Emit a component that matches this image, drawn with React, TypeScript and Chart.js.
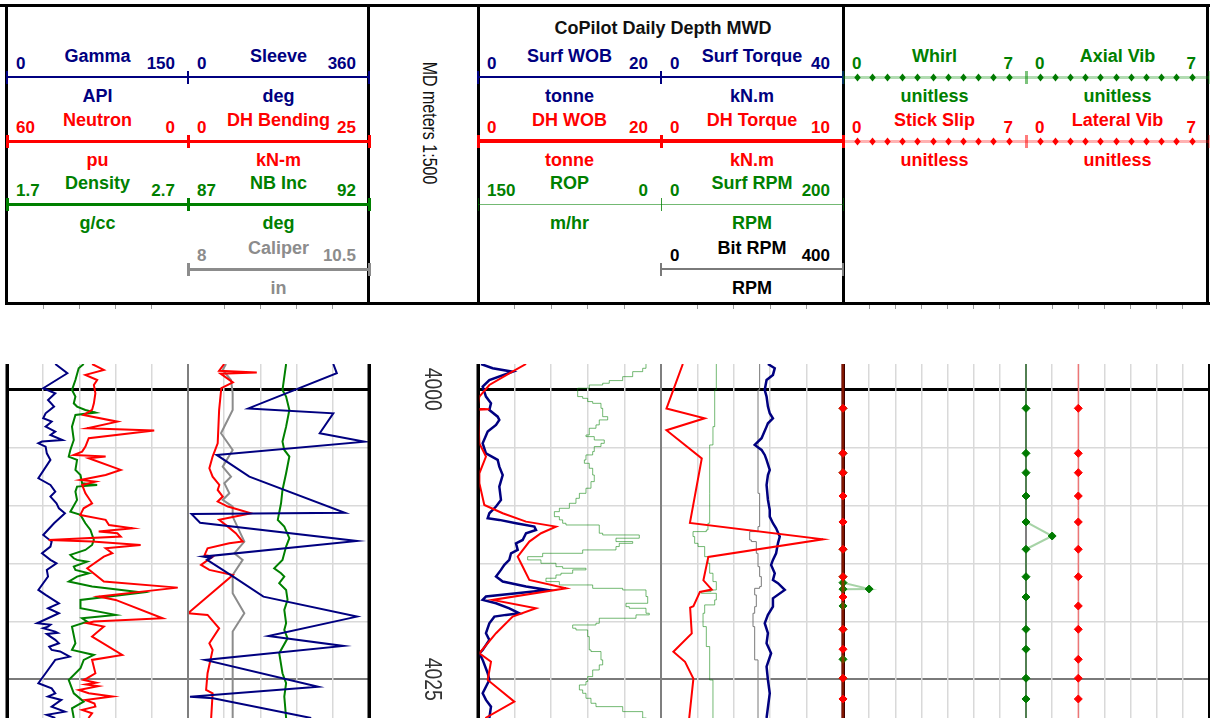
import React, { useEffect, useRef } from "react";
import { Chart, registerables } from "chart.js";

Chart.register(...registerables);

const FONT = 'Arial, "Liberation Sans", Helvetica, sans-serif';

// ---------------- depth axis ----------------
const DEPTH_TOP = 3997.82;
const DEPTH_BOTTOM = 4028.34;
const DEPTH_GRID = [4000, 4005, 4010, 4015, 4020, 4025];
const DEPTH_LABELS = [4000, 4025];

// ---------------- curves: [depth m, value] ----------------
const gamma = [
  [3997.82, 40], [3998.62, 50], [3999.91, 30], [4000.34, 40], [4000.92, 34], [4001.49, 39], [4002.07, 32],
  [4002.5, 30], [4002.79, 37], [4003.22, 32], [4003.65, 40], [4003.94, 36], [4004.37, 46], [4004.51, 29],
  [4004.66, 26], [4004.94, 32], [4005.52, 33], [4006.09, 36], [4007.67, 26], [4008.25, 36], [4008.82, 40],
  [4009.25, 36], [4009.83, 41], [4010.26, 43], [4010.69, 48], [4011.55, 39], [4012.56, 30], [4013.13, 37],
  [4013.56, 36], [4014.14, 29], [4014.71, 36], [4015.0, 41], [4015.57, 33], [4016.15, 34], [4017.3, 26],
  [4017.73, 32], [4018.45, 43], [4018.88, 34], [4019.31, 43], [4020.17, 25], [4020.3, 36], [4020.46, 34],
  [4020.6, 30], [4020.89, 40], [4021.0, 42], [4021.1, 33], [4021.32, 36], [4021.6, 40], [4021.9, 43],
  [4022.2, 35], [4022.47, 37], [4022.6, 44], [4022.76, 47], [4023.05, 52], [4023.33, 40], [4024.48, 32],
  [4025.34, 26], [4025.78, 37], [4026.21, 40], [4026.49, 34], [4026.78, 45], [4027.36, 37], [4027.79, 48],
  [4028.07, 33], [4028.34, 40],
];
const neutron = [
  [3997.82, 31.8], [3998.33, 27.9], [3998.76, 34], [3999.2, 30.1], [3999.63, 31.2], [4000.34, 30.7],
  [4001.21, 31.2], [4001.78, 31.8], [4002.21, 34.6], [4002.79, 23.4], [4003.36, 33.4], [4003.56, 11.2],
  [4004.22, 32.9], [4004.94, 34], [4005.37, 35.1], [4005.66, 37.9], [4005.8, 27.3], [4005.95, 32.9],
  [4006.95, 22.3], [4007.39, 27.3], [4007.82, 35.7], [4007.96, 30.7], [4008.25, 35.1], [4008.97, 34],
  [4009.83, 31.8], [4010.26, 34.6], [4010.83, 35.7], [4011.26, 27.3], [4011.7, 26.2], [4011.98, 18.4],
  [4012.27, 29.6], [4012.41, 23.4], [4012.7, 22.3], [4012.99, 46.2], [4013.13, 31.8], [4013.42, 15.7],
  [4013.71, 27.3], [4014.14, 25.1], [4014.43, 27.9], [4015.43, 33.4], [4016.58, 27.9], [4017.1, 3.4],
  [4017.87, 29.6], [4018.16, 24], [4019.74, 8.4], [4020.03, 31.2], [4020.17, 33.4], [4020.46, 27.9],
  [4021.32, 31.8], [4022.9, 21.8], [4023.33, 31.8], [4024.48, 30.7], [4024.91, 33.4], [4025.06, 34.6],
  [4025.3, 30.5], [4025.45, 33.8], [4025.6, 29.8], [4025.92, 36.2], [4026.21, 32.9], [4026.49, 25.1],
  [4026.78, 34], [4027.1, 31], [4027.36, 30.7], [4027.64, 35.1], [4027.93, 31.8], [4028.34, 33],
];
const density = [
  [3997.82, 2.124], [3998.19, 2.096], [3999.2, 2.078], [4000.06, 2.059], [4000.63, 2.078], [4001.21, 2.069],
  [4001.49, 2.087], [4001.78, 2.133], [4002.01, 2.189], [4002.21, 2.078], [4003.22, 2.059], [4004.37, 2.069],
  [4005.23, 2.05], [4005.8, 2.041], [4006.09, 2.087], [4006.95, 2.078], [4007.39, 2.106], [4008.1, 2.115],
  [4008.25, 2.198], [4008.39, 2.087], [4008.82, 2.078], [4009.54, 2.087], [4010.55, 2.05], [4010.83, 2.106],
  [4011.55, 2.133], [4012.13, 2.161], [4012.99, 2.18], [4013.42, 2.17], [4013.85, 2.133], [4014.28, 2.05],
  [4014.57, 2.069], [4014.71, 2.087], [4014.86, 2.143], [4015.29, 2.069], [4015.57, 2.078], [4015.86, 2.152],
  [4016.15, 2.087], [4016.58, 2.041], [4017.01, 2.17], [4017.53, 2.448], [4018.16, 2.106], [4018.88, 2.106],
  [4019.45, 2.3], [4019.74, 2.115], [4020.03, 2.143], [4020.46, 2.059], [4021.9, 2.078], [4022.47, 2.059],
  [4022.9, 2.18], [4023.33, 2.124], [4024.05, 2.106], [4025.06, 2.041], [4026.21, 2.069], [4026.93, 2.124],
  [4027.5, 2.059], [4028.34, 2.069],
];
const sleeve = [
  [3997.82, 289], [3998.62, 296], [4001.65, 120], [4002.07, 289], [4003.79, 262], [4004.52, 352],
  [4005.66, 57], [4007.53, 122], [4010.64, 312], [4010.75, 7], [4011.5, 24], [4013.08, 336], [4014.43, 30],
  [4014.55, 45], [4014.7, 38], [4016.15, 90], [4017.88, 150], [4019.6, 336], [4021.27, 160], [4022.13, 309],
  [4023.34, 34], [4025.64, 259], [4026.5, 4], [4026.64, 50], [4028.34, 245],
];
const dhBending = [
  [3997.82, 5.0], [3998.4, 4.3], [3998.55, 9.5], [3998.65, 4.5], [3999.4, 6.2], [3999.9, 4.6], [4001.78, 4.3],
  [4004.66, 4.1], [4005.8, 3.4], [4006.81, 2.95], [4007.53, 3.4], [4008.25, 4.33], [4008.68, 4.1],
  [4009.25, 4.8], [4009.68, 4.1], [4010.11, 5.5], [4010.69, 8.7], [4011.26, 4.3], [4011.84, 5.5],
  [4012.41, 6.6], [4013.13, 7.55], [4013.28, 5.7], [4013.71, 2.7], [4014.28, 2.3], [4014.43, 3.4],
  [4015.14, 1.8], [4015.57, 2.95], [4016.01, 6.2], [4019.31, 0.0], [4019.45, 2.7], [4020.6, 4.3],
  [4021.9, 2.95], [4022.47, 3.4], [4024.48, 2.7], [4025.92, 2.5], [4026.21, 3.4], [4028.34, 3.2],
];
const nbInc = [
  [3997.82, 89.71], [4000.06, 89.61], [4000.63, 89.71], [4001.78, 89.8], [4003.22, 89.71], [4004.51, 89.61],
  [4005.23, 89.66], [4005.8, 89.8], [4007.24, 89.71], [4008.68, 89.61], [4009.83, 89.57], [4011.26, 89.48],
  [4011.84, 89.66], [4012.84, 89.8], [4013.56, 89.71], [4014.71, 89.61], [4015.43, 89.38], [4015.86, 89.57],
  [4016.15, 89.66], [4016.72, 89.52], [4017.3, 89.71], [4018.16, 89.75], [4019.02, 89.66], [4020.17, 89.71],
  [4020.75, 89.66], [4021.47, 89.75], [4022.76, 89.52], [4024.48, 89.61], [4025.34, 89.71], [4026.49, 89.66],
  [4028.34, 89.71],
];
const caliper = [
  [3997.82, 8.525], [3998.33, 8.479], [3999.2, 8.594], [4000.34, 8.617], [4001.78, 8.617], [4003.79, 8.456],
  [4005.23, 8.617], [4006.67, 8.479], [4007.53, 8.594], [4008.1, 8.502], [4008.97, 8.571], [4009.54, 8.479],
  [4010.11, 8.617], [4010.98, 8.617], [4013.13, 8.778], [4014.14, 8.64], [4014.71, 8.755], [4016.01, 8.617],
  [4017.59, 8.617], [4019.31, 8.778], [4020.89, 8.617], [4028.34, 8.617],
];
const surfWob = [
  [3997.82, 0.33], [3998.19, 1.6], [3998.48, 3.79], [3999.2, 1.24], [3999.77, 0.51], [4000.63, 0.87],
  [4001.21, 1.42], [4001.78, 1.24], [4002.36, 2.15], [4002.64, 2.33], [4003.07, 1.97], [4003.65, 1.06],
  [4004.66, 0.51], [4005.52, 0.87], [4006.09, 2.15], [4006.67, 2.33], [4007.39, 2.7], [4008.39, 2.33],
  [4009.54, 2.51], [4010.11, 1.97], [4010.69, 1.24], [4011.12, 1.06], [4011.26, 2.33], [4011.55, 4.15],
  [4011.84, 6.16], [4012.13, 6.34], [4012.41, 5.25], [4012.99, 4.88], [4013.28, 4.15], [4013.85, 4.34],
  [4014.14, 3.61], [4014.71, 3.42], [4015.14, 2.88], [4015.57, 2.51], [4016.15, 1.97], [4016.58, 2.7],
  [4017.01, 5.25], [4017.3, 7.61], [4017.87, 0.87], [4018.16, 0.51], [4018.45, 1.97], [4018.88, 3.42],
  [4019.31, 4.52], [4019.45, 3.06], [4019.6, 1.79], [4020.17, 1.24], [4021.03, 0.87], [4021.61, 1.24],
  [4022.47, 0.51], [4022.76, 0.15], [4023.33, 0.51], [4024.48, 1.06], [4025.06, 1.24], [4026.21, 0.51],
  [4026.78, 0.87], [4027.36, 1.42], [4028.34, 1.24],
];
const dhWob = [
  [3997.82, 5.25], [3998.62, 3.42], [3999.63, 1.24], [4000.63, 0.15], [4001.3, 0], [4001.68, 0], [4001.72, 1.24],
  [4001.76, 0], [4004.66, 0.15], [4005.8, 0.87], [4007.24, 0.15], [4008.1, 0.15], [4009.97, 0.69],
  [4010.69, 2.7], [4011.41, 5.25], [4011.84, 8.52], [4012.41, 6.89], [4013.13, 5.61], [4014.43, 4.34],
  [4015.0, 4.7], [4016.44, 5.61], [4017.16, 9.62], [4018.16, 1.6], [4018.88, 6.34], [4019.6, 3.79],
  [4021.03, 1.97], [4022.76, 0.15], [4023.48, 1.42], [4025.06, 1.06], [4026.93, 3.97], [4028.34, 0.8],
];
const rop = [
  [3997.82, 12.3], [3998.19, 15.0], [3998.48, 23.2], [3998.91, 31.4], [3999.25, 42.4], [3999.48, 47.8],
  [3999.63, 58.8], [3999.91, 68.3], [4000.34, 68.3], [4000.63, 64.2], [4000.78, 60.1], [4001.06, 56.0],
  [4001.21, 49.2], [4001.64, 47.8], [4002.36, 43.7], [4002.64, 50.6], [4003.07, 53.3], [4003.36, 58.8],
  [4003.94, 61.5], [4004.08, 54.7], [4004.37, 46.5], [4004.66, 49.2], [4004.94, 54.7], [4005.37, 56.0],
  [4005.66, 61.5], [4006.09, 62.8], [4006.38, 58.8], [4006.81, 56.0], [4007.39, 54.7], [4007.96, 57.4],
  [4008.53, 61.5], [4008.97, 66.9], [4009.4, 69.7], [4009.83, 75.1], [4010.26, 83.3], [4010.55, 87.4],
  [4010.98, 83.3], [4011.26, 80.6], [4011.55, 77.9], [4011.7, 50.6], [4012.41, 47.8], [4012.56, 17.8],
  [4012.84, 36.9], [4013.13, 23.2], [4013.28, 34.2], [4013.56, 36.9], [4013.85, 64.2], [4014.14, 97],
  [4014.43, 109.3], [4014.71, 98.4], [4015.0, 86.1], [4015.29, 80.6], [4015.43, 61.5], [4015.57, 72.4],
  [4015.86, 82], [4016.01, 86.1], [4016.29, 94.3], [4016.58, 83.3], [4016.87, 56.0], [4017.16, 31.4],
  [4017.3, 12.3], [4017.87, 10.9], [4018.45, 28.7], [4018.74, 26], [4018.88, 12.3], [4019.31, 9.6],
  [4019.45, 20.5], [4019.74, 50.6], [4020.17, 53.3], [4020.32, 72.4], [4020.6, 69.7], [4020.75, 60.1],
  [4021.32, 58.8], [4022.47, 57.4], [4022.61, 49.2], [4023.33, 47.8], [4023.76, 50.6], [4024.2, 56.0],
  [4024.77, 60.1], [4025.2, 61.5], [4025.49, 66.9], [4025.92, 64.2], [4026.21, 61.5], [4026.64, 57.4],
  [4027.07, 53.3], [4027.36, 31.4], [4027.79, 15.0], [4028.34, 12.0],
];
const surfTorque = [
  [3997.82, 23.5], [3998.19, 25], [3998.76, 24.6], [3999.2, 23.2], [4000.06, 22.8], [4000.63, 23.2],
  [4001.49, 23.5], [4002.07, 23.9], [4002.5, 24.6], [4002.93, 23.5], [4003.22, 23.2], [4004.22, 22.1],
  [4004.8, 20.6], [4005.23, 22.1], [4005.66, 22.8], [4006.09, 23.2], [4006.95, 23.9], [4007.39, 23.5],
  [4008.25, 23.2], [4009.54, 23.5], [4010.4, 23.9], [4010.98, 23.9], [4011.55, 24.6], [4011.98, 25.3],
  [4012.7, 26.1], [4013.28, 25.7], [4014.14, 25.3], [4014.71, 24.6], [4015.14, 24.2], [4015.86, 25],
  [4016.44, 24.6], [4016.72, 25.7], [4017.3, 27.2], [4018.02, 24.6], [4018.74, 24.6], [4019.45, 23.5],
  [4020.17, 22.8], [4021.03, 23.5], [4021.9, 23.2], [4022.76, 24.2], [4023.91, 23.2], [4025.06, 23.5],
  [4026.21, 23.9], [4028.34, 23.2],
];
const dhTorque = [
  [3997.82, 1.2], [4001.66, 0.3], [4002.5, 2.4], [4003.53, 0.3], [4005.97, 2.24], [4011.52, 1.59],
  [4012.93, 8.9], [4014.45, 2.6], [4016.47, 2.33], [4017.27, 2.79], [4017.47, 2.14], [4018.7, 1.78],
  [4018.82, 1.6], [4021.05, 1.69], [4022.63, 0.68], [4023.5, 1.32], [4024.94, 1.78], [4028.34, 1.55],
];
const surfRpm = [
  [3997.82, 60.8], [4000.06, 59], [4003.22, 57.1], [4004.8, 53.5], [4008.97, 53.5], [4011.55, 51.6],
  [4012.13, 49.8], [4012.27, 35.2], [4012.7, 37], [4013.28, 40.7], [4013.56, 48], [4014.43, 51.6],
  [4015.0, 53.5], [4015.86, 57.1], [4016.58, 60.8], [4017.3, 55], [4017.44, 44.3], [4017.59, 60.8],
  [4018.16, 59], [4018.59, 48], [4019.31, 46.2], [4020.46, 49.8], [4022.18, 53.5], [4025.06, 57.1],
  [4028.34, 57.1],
];
const bitRpm = [
  [3997.82, 216.8], [4000.06, 213.2], [4004.94, 213.2], [4008.97, 216.8], [4011.84, 213.2], [4012.27, 194.9],
  [4012.99, 198.5], [4013.13, 209.5], [4014.14, 213.2], [4015.29, 216.8], [4016.15, 220.5], [4017.01, 216.8],
  [4017.16, 205.9], [4017.73, 209.5], [4018.74, 205.9], [4019.31, 202.2], [4020.46, 205.9], [4023.33, 213.2],
  [4028.34, 213.2],
];
const whirl = [
  [3997.3, 0], [4001.64, 0], [4005.52, 0], [4007.19, 0], [4009.2, 0], [4011.44, 0], [4013.79, 0], [4016.16, 0],
  [4016.67, 0], [4017.22, 1], [4017.23, 0], [4018.68, 0], [4020.69, 0], [4023.28, 0], [4024.91, 0],
  [4026.7, 0], [4028.8, 0],
];
const stickSlip = [
  [3997.3, 0], [4001.64, 0], [4005.52, 0], [4007.19, 0], [4009.2, 0], [4011.44, 0], [4013.79, 0], [4016.16, 0],
  [4017.91, 0], [4020.69, 0], [4022.41, 0], [4024.91, 0], [4026.7, 0], [4028.8, 0],
];
const axialVib = [
  [3997.3, 0], [4001.64, 0], [4005.52, 0], [4007.19, 0], [4009.2, 0], [4011.44, 0], [4012.65, 1], [4013.79, 0],
  [4016.16, 0], [4017.91, 0], [4020.69, 0], [4022.41, 0], [4024.91, 0], [4026.7, 0], [4028.8, 0],
];
const lateralVib = [
  [3997.3, 2], [4001.64, 2], [4005.52, 2], [4007.19, 2], [4009.2, 2], [4011.44, 2], [4013.79, 2], [4016.16, 2],
  [4018.68, 2], [4020.69, 2], [4023.28, 2], [4024.91, 2], [4026.7, 2], [4028.8, 2],
];

// ---------------- styling / layout ----------------
const NAVY = "#000080";
const RED = "#ff0000";
const GREEN = "#008000";
const GRAY = "#8c8c8c";
const THIN_GREEN = "rgba(0,128,0,0.55)";

const CURVES: any[] = [
  { id: "gamma", track: 0, row: 0, title: "Gamma", unit: "API", min: 0, max: 150, data: gamma, text: NAVY, line: NAVY, width: 2, hdr: NAVY, hdrW: 2, order: 3 },
  { id: "neutron", track: 0, row: 1, title: "Neutron", unit: "pu", min: 60, max: 0, data: neutron, text: RED, line: RED, width: 2, hdr: RED, hdrW: 3, order: 1 },
  { id: "density", track: 0, row: 2, title: "Density", unit: "g/cc", min: 1.7, max: 2.7, data: density, text: GREEN, line: GREEN, width: 2, hdr: GREEN, hdrW: 3, order: 2 },
  { id: "sleeve", track: 1, row: 0, title: "Sleeve", unit: "deg", min: 0, max: 360, data: sleeve, text: NAVY, line: NAVY, width: 2, hdr: NAVY, hdrW: 2, order: 1 },
  { id: "dhBending", track: 1, row: 1, title: "DH Bending", unit: "kN-m", min: 0, max: 25, data: dhBending, text: RED, line: RED, width: 2, hdr: RED, hdrW: 3, order: 2 },
  { id: "nbInc", track: 1, row: 2, title: "NB Inc", unit: "deg", min: 87, max: 92, data: nbInc, text: GREEN, line: GREEN, width: 2, hdr: GREEN, hdrW: 3, order: 3 },
  { id: "caliper", track: 1, row: 3, title: "Caliper", unit: "in", min: 8, max: 10.5, data: caliper, text: GRAY, line: GRAY, width: 2, hdr: GRAY, hdrW: 3, order: 4 },
  { id: "surfWob", track: 2, row: 0, title: "Surf WOB", unit: "tonne", min: 0, max: 20, data: surfWob, text: NAVY, line: NAVY, width: 2.5, hdr: NAVY, hdrW: 2, order: 2 },
  { id: "dhWob", track: 2, row: 1, title: "DH WOB", unit: "tonne", min: 0, max: 20, data: dhWob, text: RED, line: RED, width: 2, hdr: RED, hdrW: 4, order: 1 },
  { id: "rop", track: 2, row: 2, title: "ROP", unit: "m/hr", min: 150, max: 0, data: rop, text: GREEN, line: THIN_GREEN, width: 1, hdr: THIN_GREEN, hdrW: 1, stepped: "after", order: 3 },
  { id: "surfTorque", track: 3, row: 0, title: "Surf Torque", unit: "kN.m", min: 0, max: 40, data: surfTorque, text: NAVY, line: NAVY, width: 2.5, hdr: NAVY, hdrW: 2, order: 2 },
  { id: "dhTorque", track: 3, row: 1, title: "DH Torque", unit: "kN.m", min: 0, max: 10, data: dhTorque, text: RED, line: RED, width: 2, hdr: RED, hdrW: 4, order: 1 },
  { id: "surfRpm", track: 3, row: 2, title: "Surf RPM", unit: "RPM", min: 0, max: 200, data: surfRpm, text: GREEN, line: THIN_GREEN, width: 1, hdr: THIN_GREEN, hdrW: 1, stepped: "after", order: 3 },
  { id: "bitRpm", track: 3, row: 3, title: "Bit RPM", unit: "RPM", min: 0, max: 400, data: bitRpm, text: "#000", line: "#7a7a7a", width: 1, hdr: "#7a7a7a", hdrW: 2, stepped: "after", order: 4 },
  { id: "whirl", track: 4, row: 0, title: "Whirl", unit: "unitless", min: 0, max: 7, data: whirl, text: GREEN, line: "rgba(0,128,0,0.35)", width: 2, hdr: "rgba(0,140,0,0.3)", hdrW: 3, marker: "#007a00", order: 2 },
  { id: "stickSlip", track: 4, row: 1, title: "Stick Slip", unit: "unitless", min: 0, max: 7, data: stickSlip, text: RED, line: "rgba(255,0,0,0.5)", width: 3, hdr: "rgba(255,0,0,0.3)", hdrW: 3, marker: "#ff0000", order: 1 },
  { id: "axialVib", track: 5, row: 0, title: "Axial Vib", unit: "unitless", min: 0, max: 7, data: axialVib, text: GREEN, line: "rgba(0,128,0,0.35)", width: 2, hdr: "rgba(0,140,0,0.3)", hdrW: 3, marker: "#007a00", order: 1 },
  { id: "lateralVib", track: 5, row: 1, title: "Lateral Vib", unit: "unitless", min: 0, max: 7, data: lateralVib, text: RED, line: "rgba(255,0,0,0.45)", width: 1.5, hdr: "rgba(255,0,0,0.3)", hdrW: 3, marker: "#ff0000", order: 2 },
];

const PLOT_TOP = 364;
const PLOT_H = 354;
const PAD = 5;
const ROW_Y = [77, 141, 204, 269];
const EDGE: any = {
  black: { color: "#000000", width: 3 },
  gray: { color: "#7f7f7f", width: 2 },
};
const LIGHT = { color: "#d9d9d9", width: 1.5 };
const TRACKS = [
  { left: 7, right: 188, div: 5, edgeL: "black", edgeR: "gray", onTop: true },
  { left: 188, right: 369, div: 5, edgeL: "gray", edgeR: "black", onTop: true },
  { left: 478, right: 661, div: 5, edgeL: "black", edgeR: "gray", onTop: true },
  { left: 661, right: 843, div: 5, edgeL: "gray", edgeR: "black", onTop: true },
  { left: 843, right: 1026, div: 7, edgeL: "black", edgeR: "gray", onTop: false },
  { left: 1026, right: 1209, div: 7, edgeL: "gray", edgeR: "black", onTop: false },
];
const DEPTH_TRACK = { left: 369, right: 478, labelX: 431.5 };

function edgeStyle(t: any, v: number) {
  if (v === 0) return EDGE[t.edgeL];
  if (v === t.div) return EDGE[t.edgeR];
  return LIGHT;
}
function depthStyle(v: number) {
  if (v % 50 === 0) return { color: "#000000", width: 3 };
  if (v % 25 === 0) return { color: "#7a7a7a", width: 2 };
  return LIGHT;
}

function yScale(showGrid: boolean) {
  return {
    type: "linear",
    reverse: true,
    min: DEPTH_TOP,
    max: DEPTH_BOTTOM,
    afterBuildTicks: (s: any) => {
      s.ticks = DEPTH_GRID.map((v) => ({ value: v }));
    },
    ticks: { display: false },
    border: { display: false },
    grid: {
      display: showGrid,
      drawTicks: false,
      color: (c: any) => depthStyle(c.tick.value).color,
      lineWidth: (c: any) => depthStyle(c.tick.value).width,
    },
  };
}

const edgePlugin = {
  id: "trackEdges",
  afterDatasetsDraw(chart: any, _args: any, opts: any) {
    if (!opts || !opts.onTop) return;
    const g = chart.scales.g;
    const { top, bottom } = chart.chartArea;
    const ctx = chart.ctx;
    [
      [g.getPixelForValue(g.min), opts.left],
      [g.getPixelForValue(g.max), opts.right],
    ].forEach(([x, st]: any) => {
      ctx.save();
      ctx.strokeStyle = st.color;
      ctx.lineWidth = st.width;
      ctx.beginPath();
      ctx.moveTo(x, top);
      ctx.lineTo(x, bottom);
      ctx.stroke();
      ctx.restore();
    });
  },
};

const depthLabelPlugin = {
  id: "depthLabels",
  afterDraw(chart: any) {
    const y = chart.scales.y;
    const ctx = chart.ctx;
    DEPTH_LABELS.forEach((v) => {
      const py = y.getPixelForValue(v);
      ctx.save();
      ctx.translate(DEPTH_TRACK.labelX - DEPTH_TRACK.left, py);
      ctx.rotate(Math.PI / 2);
      ctx.scale(0.84, 1);
      ctx.font = `23px ${FONT}`;
      ctx.fillStyle = "#333333";
      ctx.textAlign = "center";
      ctx.textBaseline = "middle";
      ctx.fillText(String(v), 0, 0);
      ctx.restore();
    });
  },
};

function TrackChart({ index }: { index: number }) {
  const ref = useRef<HTMLCanvasElement>(null);
  const t = TRACKS[index];
  const w = t.right - t.left + 2 * PAD;
  useEffect(() => {
    const curves = CURVES.filter((c) => c.track === index);
    const scales: any = {
      y: yScale(true),
      g: {
        type: "linear",
        position: "bottom",
        min: 0,
        max: t.div,
        ticks: { display: false, stepSize: 1 },
        border: { display: false },
        grid: {
          drawTicks: false,
          color: (c: any) => edgeStyle(t, c.tick.value).color,
          lineWidth: (c: any) => edgeStyle(t, c.tick.value).width,
        },
      },
    };
    curves.forEach((c) => {
      scales[c.id] = {
        type: "linear",
        axis: "x",
        position: "bottom",
        display: false,
        min: Math.min(c.min, c.max),
        max: Math.max(c.min, c.max),
        reverse: c.min > c.max,
      };
    });
    const datasets = curves.map((c) => ({
      label: c.title,
      data: c.data.map(([d, v]: number[]) => ({ x: v, y: d })),
      xAxisID: c.id,
      yAxisID: "y",
      showLine: true,
      borderColor: c.line,
      backgroundColor: c.line,
      borderWidth: c.width,
      stepped: c.stepped || false,
      pointRadius: c.marker ? 4 : 0,
      pointStyle: "rectRot",
      pointBackgroundColor: c.marker || c.line,
      pointBorderColor: c.marker || c.line,
      pointBorderWidth: 1,
      order: c.order,
      fill: false,
      clip: c.marker ? { left: PAD, right: PAD, top: 0, bottom: 0 } : undefined,
    }));
    const chart = new Chart(ref.current as HTMLCanvasElement, {
      type: "scatter",
      data: { datasets } as any,
      options: {
        animation: false,
        responsive: false,
        maintainAspectRatio: false,
        events: [],
        layout: { autoPadding: false, padding: { left: PAD, right: PAD, top: 0, bottom: 0 } },
        scales,
        plugins: {
          legend: { display: false },
          tooltip: { enabled: false },
          trackEdges: { onTop: t.onTop, left: EDGE[t.edgeL], right: EDGE[t.edgeR] },
        } as any,
      } as any,
      plugins: [edgePlugin as any],
    });
    return () => chart.destroy();
  }, []);
  return (
    <canvas
      ref={ref}
      width={w}
      height={PLOT_H}
      style={{ position: "absolute", left: t.left - PAD, top: PLOT_TOP, width: w, height: PLOT_H }}
    />
  );
}

function DepthChart() {
  const ref = useRef<HTMLCanvasElement>(null);
  const w = DEPTH_TRACK.right - DEPTH_TRACK.left;
  useEffect(() => {
    const chart = new Chart(ref.current as HTMLCanvasElement, {
      type: "scatter",
      data: { datasets: [] },
      options: {
        animation: false,
        responsive: false,
        maintainAspectRatio: false,
        events: [],
        layout: { autoPadding: false, padding: 0 },
        scales: {
          y: yScale(false) as any,
          x: { type: "linear", display: false, min: 0, max: 1 },
        },
        plugins: { legend: { display: false }, tooltip: { enabled: false } },
      } as any,
      plugins: [depthLabelPlugin as any],
    });
    return () => chart.destroy();
  }, []);
  return (
    <canvas
      ref={ref}
      width={w}
      height={PLOT_H}
      style={{ position: "absolute", left: DEPTH_TRACK.left, top: PLOT_TOP, width: w, height: PLOT_H }}
    />
  );
}

function Header() {
  const els: any[] = [];
  const box = (key: string, left: number, top: number, width: number, height: number, background: string, extra: any = {}) =>
    els.push(<div key={key} style={{ position: "absolute", left, top, width, height, background, ...extra }} />);
  const text = (key: string, s: string, x: number, cy: number, align: string, color: string, size: number, weight = 700) => {
    const w = 240;
    const left = align === "left" ? x : align === "right" ? x - w : x - w / 2;
    els.push(
      <div
        key={key}
        style={{
          position: "absolute", left, top: cy - size * 0.5, width: w, height: size, lineHeight: size + "px",
          fontSize: size, fontWeight: weight, color, textAlign: align as any, whiteSpace: "nowrap", fontFamily: FONT,
        }}
      >
        {s}
      </div>
    );
  };

  box("frame-top", 0, 4, 1210, 3, "#000");
  box("frame-bottom", 5, 302, 1205, 3, "#000");
  [5, 367, 477, 842, 1206].forEach((x, i) => box("frame-v" + i, x, 5, 3, 299, "#000"));
  TRACKS.forEach((t, ti) => {
    for (let k = 1; k < t.div; k++) {
      const x = t.left + ((t.right - t.left) * k) / t.div;
      box(`btick-${ti}-${k}`, x - 0.5, 305, 1, 4, "#9a9a9a");
    }
  });

  text("main-title", "CoPilot Daily Depth MWD", 663, 28, "center", "#111", 18);
  els.push(
    <div
      key="md"
      style={{
        position: "absolute", left: 430 - 120, top: 122.5 - 10, width: 240, height: 20, lineHeight: "20px",
        fontSize: 20, color: "#111", textAlign: "center", fontFamily: FONT, whiteSpace: "nowrap",
        transform: "rotate(90deg) scaleX(0.8)",
      }}
    >
      MD meters 1:500
    </div>
  );

  CURVES.forEach((c) => {
    const t = TRACKS[c.track];
    const L = t.left;
    const R = t.right;
    const y = ROW_Y[c.row];
    const cx = (L + R) / 2;
    box(c.id + "-line", L, y - c.hdrW / 2, R - L, c.hdrW, c.hdr);
    const tw = Math.max(1, Math.min(3, c.hdrW));
    [L, R].forEach((x, i) => box(`${c.id}-tick${i}`, x - tw / 2, y - 6, tw, 13, c.hdr));
    if (c.marker) {
      for (let i = 0; i < 11; i++) {
        const mx = L + 14 + i * 15.2;
        box(`${c.id}-m${i}`, mx - 2.5, y - 2.5, 5, 5, c.marker, { transform: "scale(0.9,1.15) rotate(45deg)" });
      }
    }
    text(c.id + "-title", c.title, cx, y - 21, "center", c.text, 18);
    text(c.id + "-min", String(c.min), L + 9, y - 14, "left", c.text, 17);
    text(c.id + "-max", String(c.max), R - 13, y - 14, "right", c.text, 17);
    text(c.id + "-unit", c.unit, cx, y + 19, "center", c.text, 18);
  });

  return <>{els}</>;
}

export default function App() {
  return (
    <div
      style={{
        position: "absolute", left: 0, top: 0, width: 1210, height: 718, overflow: "hidden",
        background: "#ffffff", fontFamily: FONT,
      }}
    >
      <Header />
      <TrackChart index={0} />
      <TrackChart index={1} />
      <DepthChart />
      <TrackChart index={2} />
      <TrackChart index={3} />
      <TrackChart index={4} />
      <TrackChart index={5} />
    </div>
  );
}
